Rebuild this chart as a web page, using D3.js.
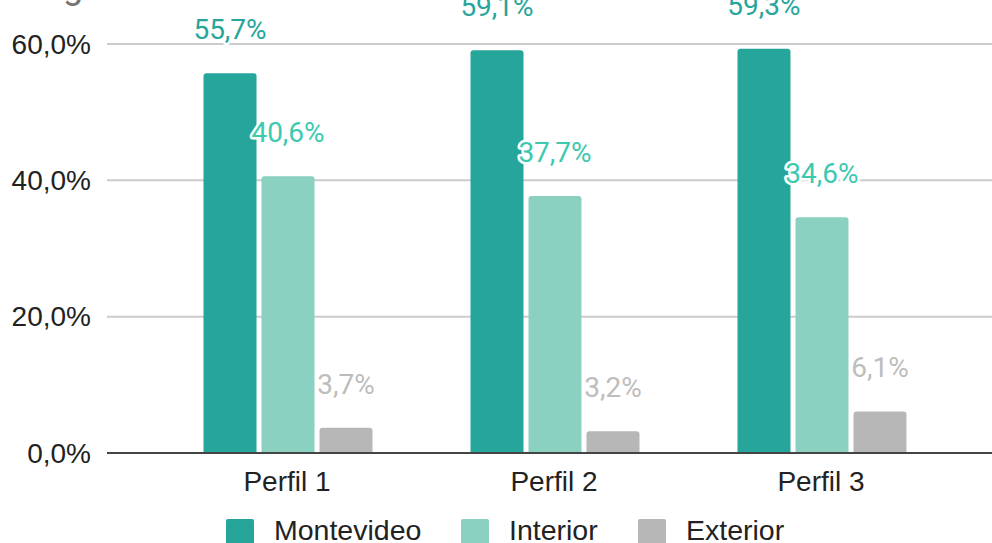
<!DOCTYPE html>
<html>
<head>
<meta charset="utf-8">
<script src="https://cdn.jsdelivr.net/npm/d3@7"></script>
<style>
  body { margin: 0; background: #fff; overflow: hidden; }
  svg { display: block; }
</style>
</head>
<body>
<div id="chart"></div>
<script>
// data
var categories = ["Perfil 1", "Perfil 2", "Perfil 3"];
var seriesNames = ["Montevideo", "Interior", "Exterior"];
var montevideo = [55.7, 59.1, 59.3];
var interior = [40.6, 37.7, 34.6];
var exterior = [3.7, 3.2, 6.1];
var yTicks = [0, 20, 40, 60];

var width = 992, height = 543;
var barColors = ["#26a69a", "#8bd1c1", "#b7b7b7"];
var labelColors = ["#26a69a", "#3cc9b0", "#bdbdbd"];

var series = [montevideo, interior, exterior];

var svg = d3.select("#chart").append("svg")
  .attr("width", width)
  .attr("height", height);

// cropped title, only the tail of a "g" shows
svg.append("text")
  .attr("x", 63).attr("y", -2)
  .attr("font-family", "Roboto, sans-serif")
  .attr("font-size", 36)
  .attr("fill", "#757575")
  .text("g");

var y = d3.scaleLinear().domain([0, 60]).range([453, 44]);

var x = d3.scalePoint().domain(categories).range([107, 1003]).padding(0.678);

var xInner = d3.scaleBand().domain(seriesNames).range([-84.5, 84.5])
  .paddingInner(0.086).paddingOuter(0);

// gridlines
svg.append("g").selectAll("line")
  .data(yTicks.filter(function(d) { return d > 0; }))
  .enter().append("line")
  .attr("x1", 107).attr("x2", width)
  .attr("y1", function(d) { return y(d); })
  .attr("y2", function(d) { return y(d); })
  .attr("stroke", "#cccccc")
  .attr("stroke-width", 2);

// y labels
svg.append("g").selectAll("text")
  .data(yTicks)
  .enter().append("text")
  .attr("x", 91)
  .attr("y", function(d) { return y(d); })
  .attr("dy", "0.35em")
  .attr("text-anchor", "end")
  .attr("font-family", "Liberation Sans, Arial, sans-serif")
  .attr("font-size", 28)
  .attr("fill", "#222")
  .text(function(d) { return d3.format(".1f")(d).replace(".", ",") + "%"; });

// rounded top bar
function barPath(x0, w, y0, y1, r) {
  r = Math.min(r, (y1 - y0));
  return "M" + x0 + "," + y1 +
    "V" + (y0 + r) +
    "Q" + x0 + "," + y0 + " " + (x0 + r) + "," + y0 +
    "H" + (x0 + w - r) +
    "Q" + (x0 + w) + "," + y0 + " " + (x0 + w) + "," + (y0 + r) +
    "V" + y1 + "Z";
}

var bars = [];
categories.forEach(function(c, i) {
  seriesNames.forEach(function(s, j) {
    bars.push({ cat: c, name: s, value: series[j][i], j: j });
  });
});

svg.append("g").selectAll("path")
  .data(bars)
  .enter().append("path")
  .attr("d", function(d) {
    return barPath(x(d.cat) + xInner(d.name), xInner.bandwidth(), y(d.value), y(0), 3);
  })
  .attr("fill", function(d) { return barColors[d.j]; });

// baseline
svg.append("line")
  .attr("x1", 107).attr("x2", width)
  .attr("y1", y(0)).attr("y2", y(0))
  .attr("stroke", "#444")
  .attr("stroke-width", 2);

// value labels
svg.append("g").selectAll("text")
  .data(bars)
  .enter().append("text")
  .attr("x", function(d) { return x(d.cat) + xInner(d.name) + xInner.bandwidth() / 2; })
  .attr("y", function(d) { return y(d.value) - 44; })
  .attr("dy", "0.35em")
  .attr("text-anchor", "middle")
  .attr("font-family", "Roboto, sans-serif")
  .attr("font-size", 28)
  .attr("fill", function(d) { return labelColors[d.j]; })
  .attr("stroke", "#fff")
  .attr("stroke-width", 5)
  .attr("stroke-linejoin", "round")
  .attr("paint-order", "stroke")
  .text(function(d) { return d3.format(".1f")(d.value).replace(".", ",") + "%"; });

// category labels
svg.append("g").selectAll("text")
  .data(categories)
  .enter().append("text")
  .attr("x", function(d) { return x(d) - 1; })
  .attr("y", 491)
  .attr("text-anchor", "middle")
  .attr("font-family", "Liberation Sans, Arial, sans-serif")
  .attr("font-size", 28)
  .attr("fill", "#222")
  .text(function(d) { return d; });

// legend
var legendX = [226, 461, 638];
var legend = svg.append("g").selectAll("g")
  .data(seriesNames)
  .enter().append("g")
  .attr("transform", function(d, i) { return "translate(" + legendX[i] + ",519)"; });
legend.append("rect")
  .attr("width", 28).attr("height", 28)
  .attr("rx", 2)
  .attr("fill", function(d, i) { return barColors[i]; });
legend.append("text")
  .attr("x", 48).attr("y", 21)
  .attr("font-family", "Liberation Sans, Arial, sans-serif")
  .attr("font-size", 28.5)
  .attr("fill", "#222")
  .text(function(d) { return d; });
</script>
</body>
</html>
